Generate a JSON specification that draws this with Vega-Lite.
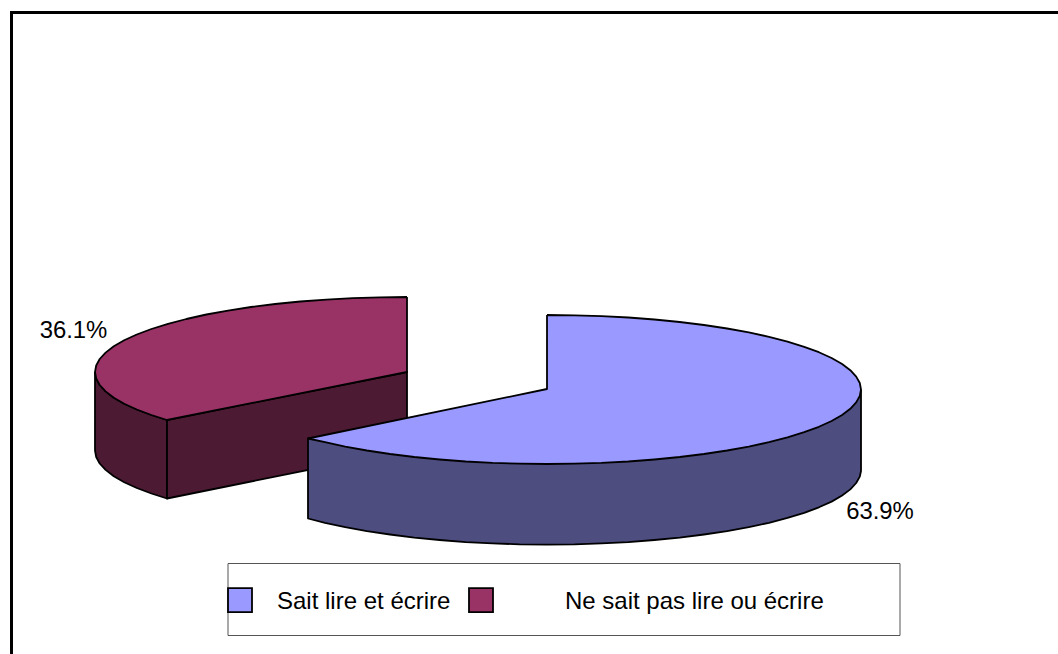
{
"$schema":"https://vega.github.io/schema/vega-lite/v6.json",
"width":1058,"height":654,"autosize":"none","padding":0,"background":"white",
"config":{"view":{"stroke":null},"font":"Liberation Sans"},
"datasets":{
"redRim":[
{"x":95,"y":372},{"x":96.2,"y":378.5},{"x":99.7,"y":385},{"x":105.6,"y":391.4},{"x":113.8,"y":397.7},{"x":124.2,"y":403.7},{"x":136.8,"y":409.5},{"x":151.4,"y":415},{"x":167,"y":420},{"x":167,"y":498.5},{"x":151.4,"y":493.5},{"x":136.8,"y":488},{"x":124.2,"y":482.2},{"x":113.8,"y":476.2},{"x":105.6,"y":469.9},{"x":99.7,"y":463.5},{"x":96.2,"y":457},{"x":95,"y":450.5},{"x":95,"y":372}
],
"redCut":[{"x":167,"y":420},{"x":407,"y":372},{"x":407,"y":450},{"x":167,"y":498.5},{"x":167,"y":420}],
"blueRim":[
{"x":861,"y":389.5},{"x":861,"y":471},{"x":859.8,"y":476.6},{"x":856.2,"y":483},{"x":850.3,"y":489.4},{"x":842.1,"y":495.5},{"x":831.6,"y":501.6},{"x":818.9,"y":507.3},{"x":804.2,"y":512.8},{"x":787.5,"y":517.9},{"x":769,"y":522.8},{"x":748.8,"y":527.1},{"x":727.1,"y":531.1},{"x":704,"y":534.5},{"x":679.7,"y":537.6},{"x":654.4,"y":540},{"x":628.3,"y":542.1},{"x":601.5,"y":543.4},{"x":574.4,"y":544.3},{"x":547,"y":544.6},{"x":519.6,"y":544.3},{"x":492.5,"y":543.4},{"x":465.7,"y":542.1},{"x":439.6,"y":540},{"x":414.3,"y":537.6},{"x":390,"y":534.5},{"x":366.9,"y":531.1},{"x":345.2,"y":527.1},{"x":325,"y":522.8},{"x":308,"y":518.5},{"x":308,"y":438.5},{"x":861,"y":389.5}
],
"tops":[
{"s":"Ne sait pas lire ou écrire","x":407,"y":297},{"s":"Ne sait pas lire ou écrire","x":379.8,"y":297.3},{"s":"Ne sait pas lire ou écrire","x":352.8,"y":298.1},{"s":"Ne sait pas lire ou écrire","x":326.3,"y":299.6},{"s":"Ne sait pas lire ou écrire","x":300.3,"y":301.5},{"s":"Ne sait pas lire ou écrire","x":275.2,"y":304},{"s":"Ne sait pas lire ou écrire","x":251,"y":307},{"s":"Ne sait pas lire ou écrire","x":228,"y":310.6},{"s":"Ne sait pas lire ou écrire","x":206.4,"y":314.5},{"s":"Ne sait pas lire ou écrire","x":186.4,"y":319},{"s":"Ne sait pas lire ou écrire","x":168,"y":323.8},{"s":"Ne sait pas lire ou écrire","x":151.4,"y":329},{"s":"Ne sait pas lire ou écrire","x":136.8,"y":334.5},{"s":"Ne sait pas lire ou écrire","x":124.2,"y":340.3},{"s":"Ne sait pas lire ou écrire","x":113.8,"y":346.3},{"s":"Ne sait pas lire ou écrire","x":105.6,"y":352.6},{"s":"Ne sait pas lire ou écrire","x":99.7,"y":359},{"s":"Ne sait pas lire ou écrire","x":96.2,"y":365.5},{"s":"Ne sait pas lire ou écrire","x":95,"y":372},{"s":"Ne sait pas lire ou écrire","x":96.2,"y":378.5},{"s":"Ne sait pas lire ou écrire","x":99.7,"y":385},{"s":"Ne sait pas lire ou écrire","x":105.6,"y":391.4},{"s":"Ne sait pas lire ou écrire","x":113.8,"y":397.7},{"s":"Ne sait pas lire ou écrire","x":124.2,"y":403.7},{"s":"Ne sait pas lire ou écrire","x":136.8,"y":409.5},{"s":"Ne sait pas lire ou écrire","x":151.4,"y":415},{"s":"Ne sait pas lire ou écrire","x":167,"y":420},{"s":"Ne sait pas lire ou écrire","x":407,"y":372},{"s":"Ne sait pas lire ou écrire","x":407,"y":297},
{"s":"Sait lire et écrire","x":547,"y":315},{"s":"Sait lire et écrire","x":574.4,"y":315.3},{"s":"Sait lire et écrire","x":601.5,"y":316.1},{"s":"Sait lire et écrire","x":628.3,"y":317.5},{"s":"Sait lire et écrire","x":654.4,"y":319.5},{"s":"Sait lire et écrire","x":679.7,"y":322},{"s":"Sait lire et écrire","x":704,"y":325},{"s":"Sait lire et écrire","x":727.1,"y":328.5},{"s":"Sait lire et écrire","x":748.8,"y":332.4},{"s":"Sait lire et écrire","x":769,"y":336.8},{"s":"Sait lire et écrire","x":787.5,"y":341.6},{"s":"Sait lire et écrire","x":804.2,"y":346.8},{"s":"Sait lire et écrire","x":818.9,"y":352.2},{"s":"Sait lire et écrire","x":831.6,"y":358},{"s":"Sait lire et écrire","x":842.1,"y":364},{"s":"Sait lire et écrire","x":850.3,"y":370.2},{"s":"Sait lire et écrire","x":856.2,"y":376.6},{"s":"Sait lire et écrire","x":859.8,"y":383},{"s":"Sait lire et écrire","x":861,"y":389.5},{"s":"Sait lire et écrire","x":859.8,"y":396},{"s":"Sait lire et écrire","x":856.2,"y":402.4},{"s":"Sait lire et écrire","x":850.3,"y":408.8},{"s":"Sait lire et écrire","x":842.1,"y":415},{"s":"Sait lire et écrire","x":831.6,"y":421},{"s":"Sait lire et écrire","x":818.9,"y":426.8},{"s":"Sait lire et écrire","x":804.2,"y":432.2},{"s":"Sait lire et écrire","x":787.5,"y":437.4},{"s":"Sait lire et écrire","x":769,"y":442.2},{"s":"Sait lire et écrire","x":748.8,"y":446.6},{"s":"Sait lire et écrire","x":727.1,"y":450.5},{"s":"Sait lire et écrire","x":704,"y":454},{"s":"Sait lire et écrire","x":679.7,"y":457},{"s":"Sait lire et écrire","x":654.4,"y":459.5},{"s":"Sait lire et écrire","x":628.3,"y":461.5},{"s":"Sait lire et écrire","x":601.5,"y":462.9},{"s":"Sait lire et écrire","x":574.4,"y":463.7},{"s":"Sait lire et écrire","x":547,"y":464},{"s":"Sait lire et écrire","x":519.6,"y":463.7},{"s":"Sait lire et écrire","x":492.5,"y":462.9},{"s":"Sait lire et écrire","x":465.7,"y":461.5},{"s":"Sait lire et écrire","x":439.6,"y":459.5},{"s":"Sait lire et écrire","x":414.3,"y":457},{"s":"Sait lire et écrire","x":390,"y":454},{"s":"Sait lire et écrire","x":366.9,"y":450.5},{"s":"Sait lire et écrire","x":345.2,"y":446.6},{"s":"Sait lire et écrire","x":325,"y":442.2},{"s":"Sait lire et écrire","x":308,"y":438.5},{"s":"Sait lire et écrire","x":547,"y":389},{"s":"Sait lire et écrire","x":547,"y":315}
],
"frame":[{"x":1058,"y":12.5},{"x":11.5,"y":12.5},{"x":11.5,"y":654}],
"legendBox":[{"x":228,"y":563.5},{"x":900,"y":563.5},{"x":900,"y":635.5},{"x":228,"y":635.5},{"x":228,"y":563.5}],
"shares":[
{"s":"Sait lire et écrire","share":0.639,"x":880,"y":512},
{"s":"Ne sait pas lire ou écrire","share":0.361,"x":73.5,"y":331}
]
},
"encoding":{
"x":{"field":"x","type":"quantitative","scale":{"domain":[0,1058],"nice":false,"zero":false},"axis":null},
"y":{"field":"y","type":"quantitative","scale":{"domain":[654,0],"nice":false,"zero":false},"axis":null}
},
"resolve":{"scale":{"color":"independent"}},
"layer":[
{"data":{"name":"frame"},"transform":[{"window":[{"op":"row_number","as":"seq"}]}],
 "mark":{"type":"line","stroke":"black","strokeWidth":3,"strokeCap":"butt","strokeJoin":"miter"},
 "encoding":{"order":{"field":"seq","type":"quantitative"}}},
{"data":{"name":"legendBox"},"transform":[{"window":[{"op":"row_number","as":"seq"}]}],
 "mark":{"type":"line","stroke":"#555555","strokeWidth":1,"strokeJoin":"miter"},
 "encoding":{"order":{"field":"seq","type":"quantitative"}}},
{"data":{"name":"redRim"},"transform":[{"window":[{"op":"row_number","as":"seq"}]}],
 "mark":{"type":"line","filled":true,"fill":"#4D1A33","stroke":"black","strokeWidth":1.8,"strokeJoin":"round"},
 "encoding":{"order":{"field":"seq","type":"quantitative"}}},
{"data":{"name":"redCut"},"transform":[{"window":[{"op":"row_number","as":"seq"}]}],
 "mark":{"type":"line","filled":true,"fill":"#4D1A33","stroke":"black","strokeWidth":1.8,"strokeJoin":"round"},
 "encoding":{"order":{"field":"seq","type":"quantitative"}}},
{"data":{"name":"blueRim"},"transform":[{"window":[{"op":"row_number","as":"seq"}]}],
 "mark":{"type":"line","filled":true,"fill":"#4D4D80","stroke":"black","strokeWidth":1.8,"strokeJoin":"round"},
 "encoding":{"order":{"field":"seq","type":"quantitative"}}},
{"data":{"name":"tops"},"transform":[{"window":[{"op":"row_number","as":"seq"}]}],
 "mark":{"type":"line","filled":true,"stroke":"black","strokeWidth":1.8,"strokeJoin":"round"},
 "encoding":{
  "color":{"field":"s","type":"nominal","scale":{"domain":["Sait lire et écrire","Ne sait pas lire ou écrire"],"range":["#9999FF","#993366"]},
   "legend":{"title":null,"orient":"none","legendX":227,"legendY":587,"columns":2,"columnPadding":14,"symbolType":"square","symbolSize":576,"symbolStrokeColor":"black","symbolStrokeWidth":1.8,"labelFontSize":24,"labelFont":"Liberation Sans","labelColor":"black","labelOffset":24,"labelLimit":600,"padding":0,
   "encode":{"labels":{"update":{"dy":{"value":2},"dx":{"signal":"datum.value=='Ne sait pas lire ou écrire' ? 47 : 0"}}}}}},
  "order":{"field":"seq","type":"quantitative"}}},
{"data":{"name":"shares"},
 "mark":{"type":"text","font":"Liberation Sans","fontSize":23.9,"color":"black","align":"center","baseline":"middle"},
 "encoding":{"text":{"field":"share","type":"quantitative","format":".1%"}}}
]
}
